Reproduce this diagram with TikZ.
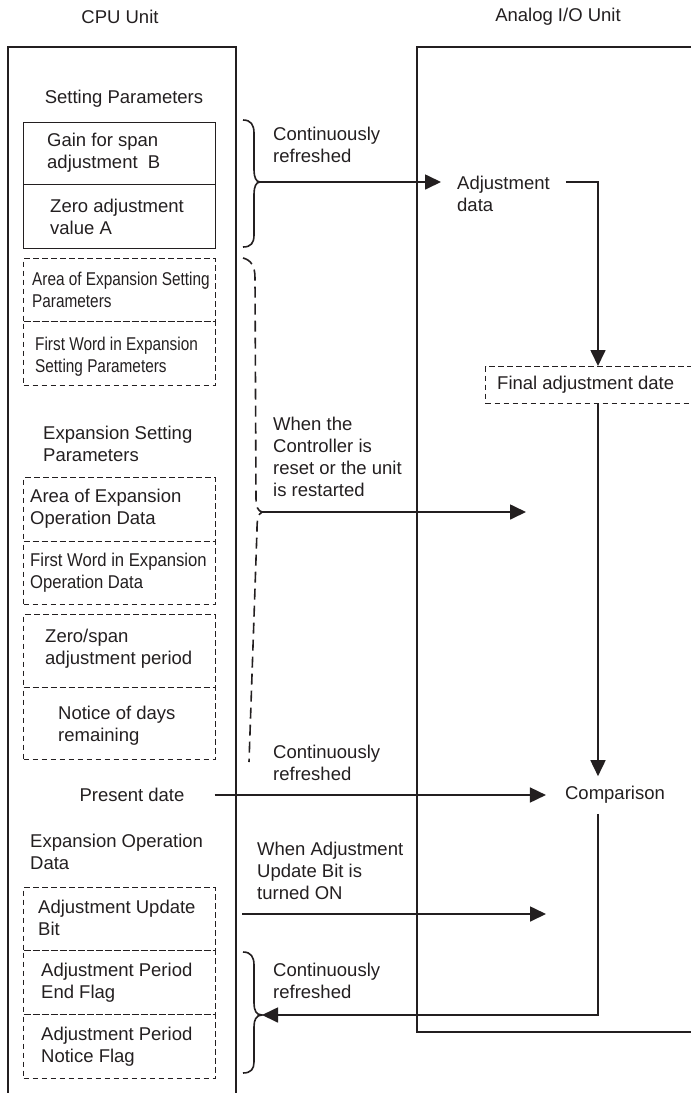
\documentclass[tikz,border=0pt]{standalone}
\usepackage{fontspec}
\setmainfont{Liberation Sans}
\newfontfamily\condA[FakeStretch=0.83]{Liberation Sans}
\newfontfamily\condB[FakeStretch=0.9]{Liberation Sans}
\usetikzlibrary{arrows.meta,calc}
\definecolor{ink}{HTML}{231F20}
\begin{document}
\begin{tikzpicture}[x=1pt,y=-1pt,
  lbl/.style={font=\fontsize{18.5}{22}\selectfont, inner sep=0pt, align=left, text=ink},
  cell/.style={draw=ink, line width=1.4pt, minimum width=192pt, anchor=north west, inner sep=0pt},
  dcell/.style={cell, line width=1.3pt, dash pattern=on 5.5pt off 3.5pt},
  unitframe/.style={draw=ink, line width=1.7pt},
  arr/.style={draw=ink, line width=1.7pt, -{Triangle[length=16pt,width=15pt]}},
  brc/.style={draw=ink, line width=1.6pt},
  dbrc/.style={brc, dash pattern=on 11pt off 6pt},
]
\useasboundingbox (0,0) rectangle (691,1093);

% headers
\node[lbl] (cpuT) at (120,17) {CPU Unit};
\node[lbl] (aioT) at (558,17) {Analog I/O Unit};

% unit frames
\draw[unitframe] (8,1100) -- (8,47) -- (236,47) -- (236,1100);
\draw[unitframe] (700,47) -- (417,47) -- (417,1032) -- (700,1032);

% CPU side
\node[lbl] (setp) at (124,99) {Setting Parameters};
\node[cell, minimum height=62pt] (gain) at (23,122) {};
\node[cell, minimum height=64pt] (zero) at (23,184) {};
\node[lbl, anchor=west] (gainT) at (47,153) {Gain for span\\adjustment~~B};
\node[lbl, anchor=west] (zeroT) at (50,217) {Zero adjustment\\value A};

\node[dcell, minimum height=63pt] (areaS) at (23,258) {};
\node[dcell, minimum height=64pt] (firstS) at (23,321) {};
\node[lbl, anchor=west, font=\condA\fontsize{18.5}{22}\selectfont] (areaST) at (32,290) {Area of Expansion Setting\\Parameters};
\node[lbl, anchor=west, font=\condA\fontsize{18.5}{22}\selectfont] (firstST) at (35,357) {First Word in Expansion\\Setting Parameters};

\node[lbl, anchor=west] (expS) at (43,444) {Expansion Setting\\Parameters};

\node[dcell, minimum height=64pt] (areaO) at (23,477) {};
\node[dcell, minimum height=63pt] (firstO) at (23,541) {};
\node[lbl, anchor=west] (areaOT) at (30,509) {Area of Expansion\\Operation Data};
\node[lbl, anchor=west, font=\condB\fontsize{18.5}{22}\selectfont] (firstOT) at (30,573) {First Word in Expansion\\Operation Data};

\node[dcell, minimum height=73pt] (period) at (23,614) {};
\node[dcell, minimum height=72pt] (notice) at (23,687) {};
\node[lbl, anchor=west] (periodT) at (45,649) {Zero/span\\adjustment period};
\node[lbl, anchor=west] (noticeT) at (58,726) {Notice of days\\remaining};

\node[lbl, inner xsep=30pt] (pd) at (132,795) {Present date};

\node[lbl, anchor=west] (expO) at (30,852) {Expansion Operation\\Data};

\node[dcell, minimum height=63pt] (upd) at (23,887) {};
\node[dcell, minimum height=64pt] (endf) at (23,950) {};
\node[dcell, minimum height=64pt] (notf) at (23,1014) {};
\node[lbl, anchor=west] (updT) at (38,918) {Adjustment Update\\Bit};
\node[lbl, anchor=west] (endfT) at (41,983) {Adjustment Period\\End Flag};
\node[lbl, anchor=west] (notfT) at (41,1047) {Adjustment Period\\Notice Flag};

% Analog side
\node[lbl, anchor=west, inner xsep=16pt] (adj) at (441,194) {Adjustment\\data};
\node[dcell, minimum width=220pt, minimum height=37pt] (final) at (485,366) {};
\node[lbl, anchor=west] (finalT) at (497,385) {Final adjustment date};
\node[lbl, inner xsep=19pt, inner ysep=10pt] (cmp) at (615,795) {Comparison};

% labels
\node[lbl, anchor=west] (lc1) at (273,145) {Continuously\\refreshed};
\node[lbl, anchor=west] (lreset) at (273,457) {When the\\Controller is\\reset or the unit\\is restarted};
\node[lbl, anchor=west] (lc2) at (273,763) {Continuously\\refreshed};
\node[lbl, anchor=west] (lupd) at (257,871) {When Adjustment\\Update Bit is\\turned ON};
\node[lbl, anchor=west] (lc3) at (273,981) {Continuously\\refreshed};

% coordinates
\coordinate (col) at (598,0);
\coordinate (b1tip) at (260,182);
\coordinate (b2tip) at (262,512);
\coordinate (b3tip) at (262,1015);
\coordinate (resetEnd) at (526,512);
\coordinate (updStart) at (242,914);
\coordinate (updEnd) at (546,914);

% braces
\draw[brc] (243,120) .. controls (251,120) and (254,125) .. (254,133) -- (254,170)
  .. controls (254,177) and (256,182) .. (b1tip)
  .. controls (256,182) and (254,187) .. (254,194) -- (254,235)
  .. controls (254,243) and (251,247) .. (243,247);
\draw[dbrc] (243,258) .. controls (251,260) and (255,266) .. (255,278) -- (256,498)
  .. controls (256,507) and (258,511) .. (b2tip)
  .. controls (258,514) and (257,520) .. (257,530) -- (249,762);
\draw[brc] (243,952) .. controls (251,952) and (254,957) .. (254,965) -- (254,1003)
  .. controls (254,1010) and (256,1015) .. (b3tip)
  .. controls (256,1015) and (254,1020) .. (254,1027) -- (254,1062)
  .. controls (254,1069) and (251,1073) .. (243,1073);

% connectors
\draw[arr] (b1tip) -- (adj.west |- b1tip);
\draw[arr] (adj.east |- b1tip) -| (final.north -| col);
\draw[arr] (final.south -| col) -- (cmp.north -| col);
\draw[arr] (pd.east) -- (cmp.west);
\draw[arr] (b2tip) -- (resetEnd);
\draw[arr] (updStart) -- (updEnd);
\draw[arr] (cmp.south -| col) |- (b3tip);
\end{tikzpicture}
\end{document}
